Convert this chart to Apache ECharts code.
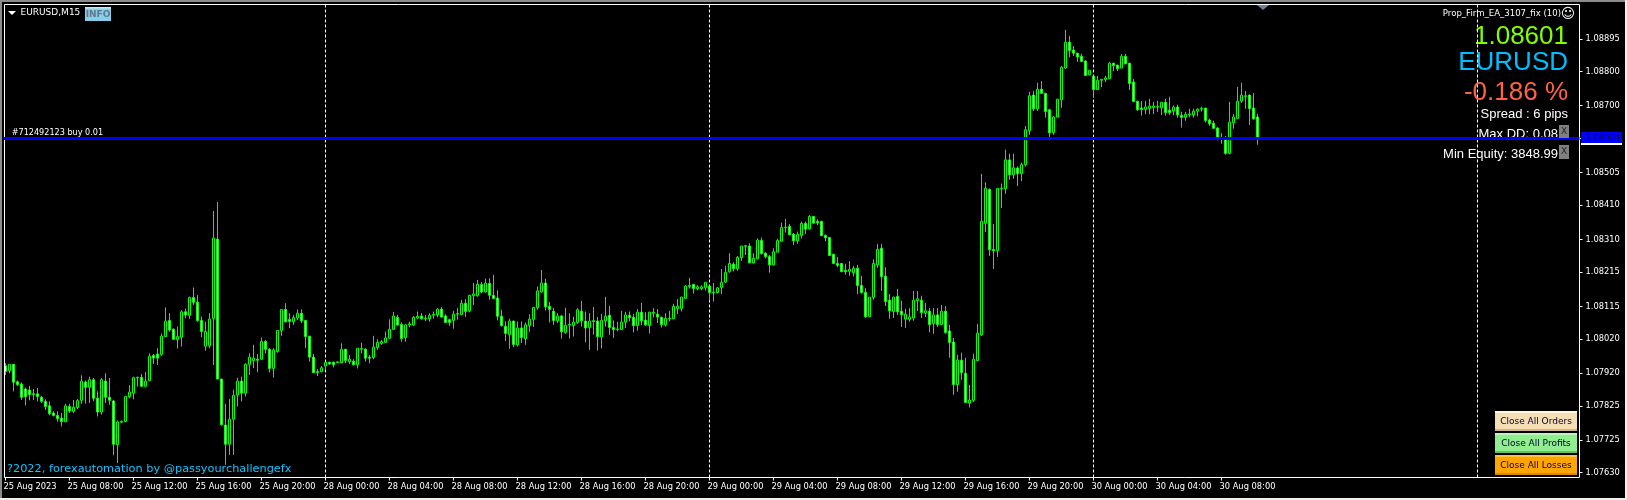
<!DOCTYPE html>
<html>
<head>
<meta charset="utf-8">
<title>EURUSD,M15</title>
<script src="https://cdn.jsdelivr.net/npm/echarts@6/dist/echarts.min.js"></script>
<style>
  html, body { margin: 0; padding: 0; background: #000; }
  #main { width: 1627px; height: 500px; }
</style>
</head>
<body>
<div id="main"></div>
<script>
// M15 bars in points (1 point = 0.00001): open, close, low, high
const candles = [
[107942,107925,107915,107949],[107928,107946,107920,107946],[107946,107894,107867,107946],[107895,107887,107883,107899],[107888,107850,107842,107893],
[107874,107852,107826,107878],[107871,107858,107841,107883],[107860,107858,107842,107874],[107860,107852,107838,107877],[107850,107838,107833,107854],
[107838,107823,107813,107844],[107825,107802,107797,107838],[107804,107797,107794,107809],[107797,107788,107779,107809],[107789,107779,107765,107804],
[107779,107825,107777,107831],[107823,107810,107804,107831],[107809,107821,107804,107842],[107820,107840,107815,107845],[107841,107897,107831,107914],
[107894,107879,107831,107899],[107879,107901,107833,107910],[107901,107847,107838,107906],[107847,107807,107794,107867],[107807,107901,107799,107906],
[107897,107850,107833,107920],[107850,107841,107828,107906],[107839,107713,107681,107842],[107712,107778,107658,107782],[107777,107780,107775,107782],
[107779,107852,107777,107854],[107852,107865,107847,107885],[107862,107907,107844,107910],[107906,107908,107881,107910],[107908,107882,107879,107918],
[107882,107897,107879,107923],[107899,107970,107896,107978],[107972,107964,107947,107976],[107976,107964,107944,107993],[107975,108028,107971,108036],
[108027,108072,108025,108112],[108074,108046,108041,108095],[108048,108019,108017,108051],[108018,108027,107992,108056],[108025,108099,107998,108104],
[108099,108090,108080,108109],[108089,108141,108078,108143],[108141,108127,108119,108170],[108127,108074,108070,108148],[108074,108042,108025,108085],
[107999,108042,107986,108070],[108000,108078,107993,108095],[108080,108314,107944,108393],[108311,107903,107903,108419],[107903,107770,107767,107903],
[107769,107713,107653,107831],[107713,107786,107682,107845],[107786,107856,107682,107872],[107856,107897,107823,107907],[107897,107862,107838,107910],
[107862,107946,107852,107949],[107946,107967,107915,107978],[107957,107964,107935,108003],[107961,107958,107923,107976],[107961,108013,107959,108024],
[108013,107990,107978,108017],[107990,107934,107922,107993],[107934,107988,107907,107993],[107983,108045,107980,108046],[108045,108106,108029,108106],
[108106,108070,108068,108124],[108077,108071,108051,108095],[108070,108082,108061,108090],[108081,108095,108075,108106],[108095,108073,108066,108106],
[108074,108027,107993,108074],[108028,107967,107954,108029],[107967,107922,107922,107976],[107922,107925,107912,107932],[107925,107936,107922,107941],
[107941,107952,107930,107952],[107952,107947,107944,107953],[107952,107945,107937,107954],[107951,107953,107951,107955],[107951,107990,107949,108007],
[107990,107957,107949,107990],[107953,107961,107947,107973],[107955,107945,107943,107961],[107945,107993,107934,107993],[107990,107992,107978,108009],
[107990,107964,107954,107993],[107967,107964,107949,107973],[107966,107996,107961,108029],[107995,108010,107988,108019],[108007,108012,108003,108017],
[108010,108023,108009,108041],[108022,108048,108019,108077],[108048,108087,108046,108099],[108083,108061,108058,108090],[108062,108021,108012,108068],
[108024,108061,108012,108064],[108061,108064,108054,108070],[108061,108083,108058,108087],[108081,108086,108077,108100],[108087,108079,108076,108095],
[108079,108081,108072,108090],[108079,108089,108070,108095],[108089,108092,108079,108100],[108090,108107,108083,108110],[108107,108084,108082,108113],
[108087,108068,108066,108092],[108076,108068,108058,108079],[108074,108092,108050,108102],[108092,108094,108076,108110],[108091,108124,108090,108134],
[108124,108100,108084,108136],[108102,108147,108098,108149],[108146,108151,108119,108183],[108146,108179,108143,108192],[108179,108157,108153,108186],
[108157,108183,108155,108196],[108182,108147,108134,108197],[108147,108138,108136,108207],[108139,108086,108074,108162],[108086,108059,108056,108105],
[108057,108036,108014,108071],[108033,108072,107991,108079],[108072,108004,107996,108073],[108003,108052,107998,108071],[108052,108024,108008,108071],
[108021,108061,108003,108068],[108059,108078,108041,108092],[108077,108112,108055,108113],[108111,108160,108105,108173],[108157,108183,108155,108221],
[108183,108114,108103,108195],[108115,108106,108068,108128],[108101,108074,108061,108110],[108073,108087,108066,108095],[108087,108041,108021,108090],
[108039,108060,108035,108111],[108060,108062,108021,108095],[108059,108069,108027,108085],[108068,108105,108064,108110],[108101,108073,108056,108131],
[108072,108052,108010,108100],[108053,108072,107988,108095],[108073,108071,108032,108113],[108072,108027,107986,108084],[108026,108074,107992,108093],
[108073,108086,108056,108143],[108089,108053,108032,108116],[108053,108047,108023,108074],[108047,108049,108042,108070],[108047,108069,108046,108102],
[108069,108090,108052,108099],[108089,108082,108071,108100],[108083,108059,108039,108093],[108059,108098,108044,108107],[108098,108073,108060,108125],
[108075,108061,108058,108098],[108059,108098,108036,108099],[108095,108098,108083,108110],[108092,108084,108066,108107],[108083,108062,108053,108085],
[108061,108080,108056,108095],[108079,108081,108071,108102],[108079,108115,108078,108122],[108109,108115,108093,108136],[108109,108142,108100,108143],
[108138,108174,108137,108177],[108173,108176,108167,108198],[108179,108167,108152,108180],[108167,108172,108162,108177],[108167,108172,108162,108176],
[108169,108185,108161,108186],[108174,108155,108132,108174],[108155,108157,108129,108183],[108155,108169,108153,108171],[108170,108185,108151,108224],
[108186,108214,108183,108233],[108216,108240,108213,108270],[108238,108225,108217,108244],[108225,108258,108219,108262],[108257,108291,108247,108291],
[108290,108292,108265,108294],[108291,108242,108240,108299],[108242,108255,108240,108270],[108254,108308,108252,108313],[108307,108269,108266,108316],
[108270,108260,108255,108273],[108260,108236,108213,108265],[108236,108274,108234,108284],[108273,108307,108272,108312],[108305,108345,108304,108359],
[108344,108346,108330,108370],[108348,108324,108322,108355],[108325,108306,108294,108329],[108306,108325,108297,108333],[108322,108357,108313,108362],
[108357,108340,108326,108362],[108341,108377,108339,108381],[108377,108358,108355,108378],[108363,108359,108352,108369],[108363,108321,108321,108363],
[108322,108315,108305,108324],[108316,108263,108262,108316],[108267,108240,108239,108267],[108240,108235,108229,108259],[108240,108216,108215,108240],
[108220,108216,108207,108239],[108217,108223,108204,108247],[108213,108226,108202,108233],[108226,108176,108151,108236],[108176,108155,108153,108204],
[108156,108085,108081,108168],[108085,108142,108084,108142],[108141,108240,108134,108252],[108236,108281,108227,108297],[108284,108202,108160,108297],
[108203,108129,108116,108229],[108133,108102,108079,108151],[108100,108142,108081,108143],[108144,108099,108090,108166],[108101,108091,108055,108131],
[108078,108092,108052,108108],[108077,108084,108070,108110],[108081,108133,108073,108160],[108132,108137,108101,108160],[108133,108097,108081,108146],
[108096,108102,108084,108125],[108101,108062,108039,108110],[108065,108090,108035,108110],[108090,108062,108055,108110],[108062,108101,108060,108119],
[108101,108039,108035,108116],[108043,108010,107965,108061],[108011,107887,107857,108023],[107887,107958,107866,107974],[107958,107922,107901,107980],
[107920,107835,107833,107965],[107833,107842,107820,107886],[107841,107961,107836,107977],[107957,108037,107956,108064],[108032,108363,108029,108501],
[108357,108459,108332,108477],[108456,108280,108262,108459],[108281,108277,108224,108355],[108277,108459,108259,108459],[108458,108460,108402,108473],
[108458,108542,108443,108572],[108542,108499,108484,108560],[108499,108519,108487,108560],[108518,108502,108466,108523],[108502,108528,108480,108534],
[108528,108630,108523,108641],[108628,108729,108615,108740],[108731,108691,108685,108743],[108691,108748,108685,108767],[108748,108736,108735,108772],
[108736,108683,108665,108736],[108688,108621,108609,108691],[108622,108667,108615,108670],[108667,108719,108666,108720],[108717,108812,108694,108816],
[108810,108885,108807,108921],[108885,108861,108841,108903],[108862,108853,108845,108874],[108853,108842,108828,108853],[108844,108829,108827,108851],
[108830,108788,108787,108833],[108790,108803,108789,108804],[108786,108747,108723,108786],[108747,108774,108746,108787],[108774,108777,108754,108778],
[108776,108781,108769,108787],[108779,108824,108777,108828],[108824,108817,108801,108824],[108818,108808,108801,108820],[108810,108844,108809,108851],
[108844,108822,108821,108851],[108824,108765,108746,108824],[108769,108712,108712,108778],[108713,108688,108685,108714],[108693,108689,108671,108714],
[108689,108696,108675,108714],[108692,108699,108675,108720],[108695,108699,108676,108711],[108696,108698,108682,108714],[108694,108710,108673,108710],
[108710,108680,108671,108720],[108687,108680,108673,108726],[108685,108696,108672,108701],[108696,108673,108665,108703],[108672,108666,108636,108682],
[108666,108675,108656,108682],[108674,108676,108666,108691],[108673,108684,108665,108691],[108684,108690,108669,108692],[108690,108692,108683,108697],
[108693,108657,108651,108693],[108658,108647,108641,108662],[108649,108634,108633,108656],[108635,108606,108599,108637],[108607,108604,108589,108620],
[108603,108561,108557,108612],[108561,108652,108558,108711],[108650,108667,108633,108676],[108663,108713,108662,108755],[108714,108731,108708,108767],
[108727,108729,108691,108743],[108731,108692,108644,108732],[108693,108662,108659,108737],[108667,108601,108586,108676]
]

const timeLabels = [
  '25 Aug 2023', '25 Aug 08:00', '25 Aug 12:00', '25 Aug 16:00', '25 Aug 20:00',
  '28 Aug 00:00', '28 Aug 04:00', '28 Aug 08:00', '28 Aug 12:00', '28 Aug 16:00', '28 Aug 20:00',
  '29 Aug 00:00', '29 Aug 04:00', '29 Aug 08:00', '29 Aug 12:00', '29 Aug 16:00', '29 Aug 20:00',
  '30 Aug 00:00', '30 Aug 04:00', '30 Aug 08:00'
]
const barsPerLabel = 16
const barSlots = 394 // chart shift leaves empty room right of the last bar
const daySeparators = [80, 176, 272, 368]

const priceTicks = [108895, 108800, 108700, 108605, 108505, 108410, 108310, 108215, 108115, 108020, 107920, 107825, 107725, 107630]
const orderPrice = 108604

var categories = []
for (var n = 0; n < barSlots; n++) categories.push(String(n))

var axisFont = '"DejaVu Sans"'
var panelFont = '"Liberation Sans"'

function txt(text, x, y, fill, font, align, z) {
  return {
    type: 'text', z: z || 0, silent: true,
    style: { text: text, x: x, y: y, fill: fill, font: font, textAlign: align || 'left', textVerticalAlign: 'middle' }
  }
}
function box(x, y, w, h, fill, z) {
  return { type: 'rect', z: z || 0, silent: true, shape: { x: x, y: y, width: w, height: h }, style: { fill: fill } }
}
function button(label, y, fill, light, dark) {
  return [
    box(1495, y, 82, 20, fill, 20),
    box(1495, y, 82, 2, light, 21),
    box(1495, y + 18, 82, 2, dark, 21),
    txt(label, 1536, y + 10.5, '#000030', '9px ' + axisFont, 'center', 22)
  ]
}

var overlay = [
  // window frame
  box(0, 0, 1627, 2, '#8c8c8c', 30), box(0, 0, 2, 500, '#8c8c8c', 30),
  box(1625, 0, 2, 500, '#f0f0f0', 30), box(0, 498, 1627, 2, '#f0f0f0', 30),
  {
    type: 'rect', z: 3, silent: true,
    shape: { x: 4.5, y: 4.5, width: 1575, height: 473 },
    style: { fill: 'none', stroke: '#fff', lineWidth: 1 }
  },
  { type: 'polygon', z: 4, silent: true, shape: { points: [[8, 11], [16, 11], [12, 15]] }, style: { fill: '#fff' } },
  { type: 'polygon', z: 4, silent: true, shape: { points: [[1257, 5], [1269, 5], [1263, 10]] }, style: { fill: '#708090' } },
  txt('EURUSD,M15', 20.5, 12.5, '#fff', '9px ' + axisFont),
  box(85, 7, 26, 14, '#87ceeb', 4), box(85, 7, 26, 1.5, '#c4e8f6', 5),
  txt('INFO', 98, 14.5, '#607888', 'bold 9px ' + axisFont, 'center', 6),
  txt('#712492123 buy 0.01', 11.7, 132.5, '#fff', '8.1px ' + axisFont),
  txt('?2022, forexautomation by @passyourchallengefx', 7, 469, '#10c4ff', '11.3px ' + axisFont),
  // EA panel, top right
  txt('Prop_Firm_EA_3107_fix (10)', 1561, 14, '#fff', '8.55px ' + axisFont, 'right'),
  txt('\u263A', 1568, 14, '#fff', '14px ' + axisFont, 'center'),
  txt('1.08601', 1568, 37, '#7fff00', '26px ' + panelFont, 'right'),
  txt('EURUSD', 1568, 63, '#00bfff', '26px ' + panelFont, 'right'),
  txt('-0.186 %', 1568, 93, '#ff6347', '26px ' + panelFont, 'right'),
  txt('Spread : 6 pips', 1568, 114.5, '#fff', '13px ' + panelFont, 'right'),
  txt('Max DD: 0.08', 1558, 134, '#fff', '13px ' + panelFont, 'right'),
  txt('Min Equity: 3848.99', 1558, 154, '#fff', '13px ' + panelFont, 'right'),
  box(1559, 125, 10, 13, '#808080', 20), txt('X', 1564, 131.5, '#222', '9px ' + axisFont, 'center', 21),
  box(1559, 145, 10, 14, '#808080', 20), txt('X', 1564, 152, '#222', '9px ' + axisFont, 'center', 21),
  // current price tag
  box(1581, 132, 41, 11, '#0000ff', 20),
  box(1581, 143, 41, 2, '#fff', 20),
  txt('1.08604', 1585.7, 137.5, '#000060', '8.3px ' + axisFont, 'left', 21)
]
overlay = overlay
  .concat(button('Close All Orders', 411, '#f5deb3', '#fff8dc', '#d2b48c'))
  .concat(button('Close All Profits', 433, '#90ee90', '#b8f7b8', '#5fc45f'))
  .concat(button('Close All Losses', 455, '#ffa500', '#ffc040', '#d88a00'))

var chart = echarts.init(document.getElementById('main'))
chart.setOption({
  animation: false,
  backgroundColor: '#000',
  grid: { left: 3.5, top: 4.5, width: 1576, height: 473, show: false },
  xAxis: {
    type: 'category',
    data: categories,
    boundaryGap: true,
    axisLine: { show: false },
    axisTick: {
      show: true,
      alignWithLabel: true,
      length: 3,
      interval: function (i) { return i % barsPerLabel === 0 && i < candles.length },
      lineStyle: { color: '#fff' }
    },
    axisLabel: {
      color: '#fff',
      fontFamily: 'DejaVu Sans',
      fontSize: 8.3,
      margin: 5,
      align: 'left',
      padding: [0, 0, 0, -2],
      hideOverlap: false,
      interval: function (i) { return i % barsPerLabel === 0 && i < candles.length },
      formatter: function (v, i) { return timeLabels[i / barsPerLabel] }
    },
    splitLine: { show: false }
  },
  yAxis: {
    type: 'value',
    position: 'right',
    min: 107616,
    max: 108995,
    axisLine: { show: false },
    axisTick: { show: true, length: 3, customValues: priceTicks, lineStyle: { color: '#fff' } },
    axisLabel: {
      color: '#fff',
      fontFamily: 'DejaVu Sans',
      fontSize: 8.3,
      margin: 6,
      customValues: priceTicks,
      formatter: function (v) { return (v / 100000).toFixed(5) }
    },
    splitLine: { show: false }
  },
  series: [
    {
      // period separators sit behind the candles
      type: 'line',
      data: [],
      silent: true,
      markLine: {
        silent: true, symbol: 'none', z: 1, animation: false,
        label: { show: false },
        lineStyle: { color: '#fff', type: [3, 2], width: 1 },
        data: daySeparators.map(function (i) { return { xAxis: i } })
      }
    },
    {
      type: 'candlestick',
      data: candles,
      barWidth: 3,
      silent: true,
      itemStyle: { color: '#000', color0: '#fff', borderColor: '#00ff00', borderColor0: '#00ff00', borderWidth: 1 },
      markLine: {
        silent: true, symbol: 'none', animation: false,
        label: { show: false },
        lineStyle: { color: '#0000ff', type: 'solid', width: 3 },
        data: [{ yAxis: orderPrice }]
      }
    }
  ],
  graphic: { elements: overlay }
})
</script>
</body>
</html>
